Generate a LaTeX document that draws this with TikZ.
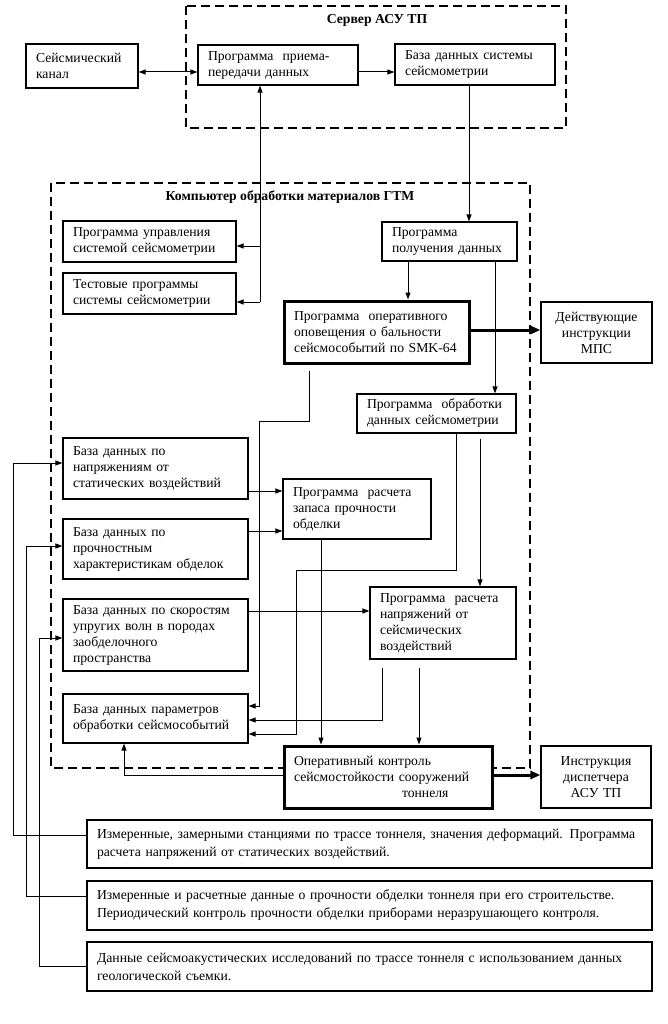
\documentclass[tikz,border=0pt]{standalone}
\usepackage{fontspec}
\setmainfont{Liberation Serif}
\usetikzlibrary{arrows.meta}

\begin{document}
\begin{tikzpicture}[x=1pt, y=-1pt, >={Triangle[length=7pt,width=5pt]},
  every node/.style={font=\fontsize{13.7}{16}\selectfont},
  blockbox/.style={draw, fill=white, line width=1.2pt, align=left, inner xsep=10pt, inner ysep=1pt},
  mainbox/.style={blockbox, line width=3pt},
  notebox/.style={blockbox, font=\fontsize{13.7}{18}\selectfont},
  dashframe/.style={line width=2pt, dash pattern=on 9pt off 5pt},
  wire/.style={line width=1pt},
  heavy/.style={line width=3pt, -{Triangle[length=10pt,width=8pt]}}]
  \useasboundingbox (0,0) rectangle (667,1024);

  % Server ASU TP
  \draw[dashframe] (186,6) rectangle (566,128);
  \node[font=\fontsize{13.7}{16}\selectfont\bfseries] (srvtitle) at (377,20) {Сервер АСУ ТП};
  \node[blockbox, text width=92pt, minimum height=44pt] (seismic) at (82,66) {Сейсмический\\канал};
  \node[blockbox, text width=140pt, minimum height=40pt] (recv) at (278,65) {Программа\ \ приема-\\передачи данных};
  \node[blockbox, text width=140pt, minimum height=41pt] (sdb) at (475,64.5) {База данных системы\\сейсмометрии};

  % GTM processing computer
  \draw[dashframe] (51,183) rectangle (530,768);
  \node[font=\fontsize{13.7}{16}\selectfont\bfseries] (pctitle) at (290,197) {Компьютер обработки материалов ГТМ};
  \node[blockbox, text width=153pt, minimum height=41pt] (ctrl) at (149.5,241.5) {Программа управления\\системой сейсмометрии};
  \node[blockbox, text width=153pt, minimum height=41pt] (test) at (149.5,293.5) {Тестовые программы\\системы сейсмометрии};
  \node[blockbox, text width=115pt, minimum height=39pt] (acq) at (449.5,241.5) {Программа\\получения данных};
  \node[mainbox, text width=165pt, minimum height=62pt] (alert) at (376.5,332) {Программа\ \ оперативного\\оповещения о бальности\\сейсмособытий по SMK-64};
  \node[blockbox, align=center, text width=91pt, minimum height=61pt] (mps) at (596.5,332.5) {Действующие\\инструкции\\МПС};
  \node[blockbox, text width=139pt, minimum height=39pt] (proc) at (436.5,413.5) {Программа\ \ обработки\\данных сейсмометрии};
  \node[blockbox, text width=165pt, minimum height=61pt] (dbstat) at (155.5,468.5) {База данных по\\напряжениям от\\статических воздействий};
  \node[blockbox, text width=128pt, minimum height=60pt] (margin) at (357,509) {Программа\ \ расчета\\запаса прочности\\обделки};
  \node[blockbox, text width=165pt, minimum height=60pt] (dbstr) at (155.5,549) {База данных по\\прочностным\\характеристикам обделок};
  \node[blockbox, text width=165pt, minimum height=72pt] (dbvel) at (155.5,635) {База данных по скоростям\\упругих волн в породах\\заобделочного\\пространства};
  \node[blockbox, text width=126pt, minimum height=72pt] (seisst) at (443,623) {Программа\ \ расчета\\напряжений от\\сейсмических\\воздействий};
  \node[blockbox, text width=165pt, minimum height=49pt] (dbpar) at (155.5,718.5) {База данных параметров\\обработки сейсмособытий};
  \node[mainbox, text width=188pt, minimum height=62pt] (monitor) at (388,777) {Оперативный контроль\\сейсмостойкости сооружений\\\hspace*{108pt}тоннеля};
  \node[blockbox, align=center, text width=90pt, minimum height=62pt] (instr) at (596,777) {Инструкция\\диспетчера\\АСУ ТП};

  % Source data
  \node[notebox, text width=545pt, minimum height=48pt] (meas) at (369.5,844) {Измеренные, замерными станциями по трассе тоннеля, значения деформаций. Программа\\расчета напряжений от статических воздействий.};
  \node[notebox, text width=545pt, minimum height=49pt] (strength) at (369.5,905.5) {Измеренные и расчетные данные о прочности обделки тоннеля при его строительстве.\\Периодический контроль прочности обделки приборами неразрушающего контроля.};
  \node[notebox, text width=545pt, minimum height=49pt] (survey) at (369.5,966.5) {Данные сейсмоакустических исследований по трассе тоннеля с использованием данных\\геологической съемки.};

  % Server links
  \draw[wire,<->] ([yshift=-6pt]seismic.east) -- ([yshift=-6pt]seismic.east -| recv.west);
  \draw[wire,->] ([yshift=-7pt]recv.east) -- ([yshift=-7pt]recv.east -| sdb.west);
  \draw[wire,->] (sdb.south -| 469,0) -- (acq.north -| 469,0);

  % Control bus
  \coordinate (bus) at (260,302);
  \draw[wire,->] (bus) -- (recv.south -| bus);
  \draw[wire,->] ([yshift=-4.5pt]ctrl.east -| bus) -- ([yshift=-4.5pt]ctrl.east);
  \draw[wire,->] (bus) -- (bus -| test.east);

  % Data acquisition
  \draw[wire,->] (acq.south -| 408,0) -- (alert.north -| 408,0);
  \draw[wire,->] (acq.south -| 495,0) -- (proc.north -| 495,0);
  \draw[heavy] ([yshift=2pt]alert.east) -- ([yshift=2pt]alert.east -| mps.west);

  % Into the parameter base
  \draw[wire,->] ([yshift=-6pt]alert.south -| 309,0) |- (259,421) |- ([yshift=12.5pt]dbpar.east);
  \draw[wire,->] (proc.south -| 456,0) |- (296,570) |- ([yshift=-15.5pt]dbpar.east);
  \draw[wire,->] ([yshift=-8pt]seisst.south -| 382,0) |- ([yshift=-1.5pt]dbpar.east);

  % Calculations
  \draw[wire,->] ([yshift=-5pt]proc.south -| 480,0) -- (seisst.north -| 480,0);
  \draw[wire,->] ([yshift=-22.5pt]dbstat.east) -- ([yshift=-22.5pt]dbstat.east -| margin.west);
  \draw[wire,->] ([yshift=18pt]dbstr.east) -- ([yshift=18pt]dbstr.east -| margin.west);
  \draw[wire,->] ([yshift=24pt]dbvel.east) -- ([yshift=24pt]dbvel.east -| seisst.west);
  \draw[wire,->] (margin.south -| 321,0) -- (monitor.north -| 321,0);
  \draw[wire,->] ([yshift=-8pt]seisst.south -| 419,0) -- (monitor.north -| 419,0);

  % Monitoring outputs
  \draw[wire,->] ([yshift=2pt]monitor.west) -| (dbpar.south -| 124,0);
  \draw[heavy] ([yshift=2pt]monitor.east) -- ([yshift=2pt]monitor.east -| instr.west);

  % Source data into the bases
  \draw[wire,->] ([yshift=9pt]meas.west) -| (13,463) -- ([yshift=5.5pt]dbstat.west);
  \draw[wire,->] ([yshift=9.5pt]strength.west) -| (26,546) -- ([yshift=3pt]dbstr.west);
  \draw[wire,->] (survey.west) -| (39,638) -- ([yshift=-3pt]dbvel.west);
\end{tikzpicture}
\end{document}
